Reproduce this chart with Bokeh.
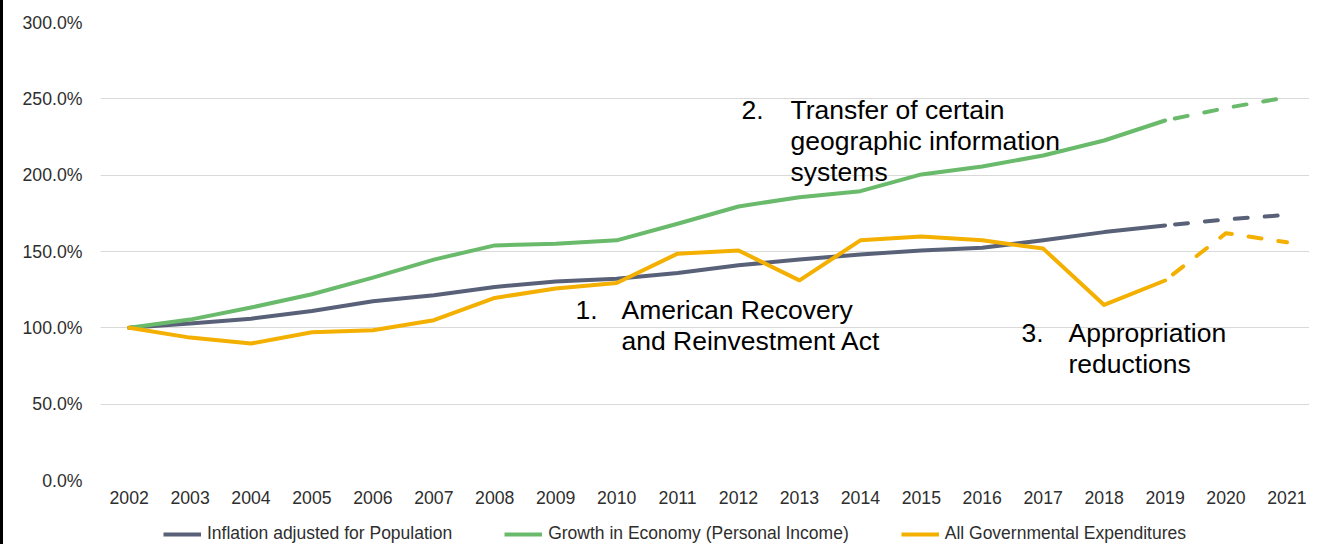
from bokeh.plotting import figure
from bokeh.layouts import column, row
from bokeh.models import Range1d, Label, Legend, LegendItem, FixedTicker, PrintfTickFormatter, Div
from bokeh.embed import file_html
from bokeh.resources import INLINE

# ---- data ----
years = list(range(2002, 2020))
inflation = [100, 102.8, 106, 111, 117.4, 121.3, 126.8, 130.3, 132.2, 135.9, 141, 144.7, 148.1, 150.7, 152.5, 157.3, 162.7, 167.1]
economy = [100, 105.4, 113.3, 122, 132.9, 144.7, 154, 155, 157.3, 168.2, 179.5, 185.6, 189.5, 200.5, 205.7, 212.9, 222.7, 235.8]
expend = [100, 93.6, 89.7, 97.1, 98.4, 105, 119.6, 125.7, 129.4, 148.6, 150.7, 131.1, 157.3, 159.9, 157.3, 151.9, 115, 131]

proj_years = [2019, 2020, 2021]
inflation_proj = [167.1, 171, 174]
economy_proj = [235.8, 244, 251]
expend_proj = [131, 162, 156]

x_ticks = list(range(2002, 2022))
y_ticks = [0, 50, 100, 150, 200, 250, 300]

series_names = ["Inflation adjusted for Population",
                "Growth in Economy (Personal Income)",
                "All Governmental Expenditures"]

notes = [
    ("1.", ["American Recovery", "and Reinvestment Act"]),
    ("2.", ["Transfer of certain", "geographic information", "systems"]),
    ("3.", ["Appropriation", "reductions"]),
]

# ---- style ----
FONT = "Liberation Sans"
C_GRAY = "#596178"
C_GREEN = "#6aba6c"
C_ORANGE = "#f4b000"
TXT = "#2e2e2e"
EDGE = 3
W = 1309 - EDGE

p = figure(width=W, height=511, output_backend="svg", toolbar_location=None,
           x_range=Range1d(2001.53, 2021.37), y_range=Range1d(0, 300),
           min_border_left=100 - EDGE, min_border_right=0, min_border_top=22, min_border_bottom=31)
p.outline_line_color = None
p.background_fill_color = "white"
p.border_fill_color = "white"

p.xgrid.grid_line_color = None
p.ygrid.grid_line_color = "#d9d9d9"
p.ygrid.grid_line_width = 1
p.ygrid.ticker = FixedTicker(ticks=y_ticks)

p.yaxis.ticker = FixedTicker(ticks=y_ticks)
p.yaxis.formatter = PrintfTickFormatter(format="%.1f%%")
p.xaxis.ticker = FixedTicker(ticks=x_ticks)
for ax in (p.xaxis, p.yaxis):
    ax.axis_line_color = None
    ax.major_tick_line_color = None
    ax.minor_tick_line_color = None
    ax.major_tick_out = 0
    ax.major_tick_in = 0
    ax.major_label_text_font = FONT
    ax.major_label_text_font_size = "17.7px"
    ax.major_label_text_color = TXT
p.yaxis.major_label_standoff = 18
p.xaxis.major_label_standoff = 10

lw = 4
dash = "13 17"
series = [(inflation, inflation_proj, C_GRAY), (economy, economy_proj, C_GREEN), (expend, expend_proj, C_ORANGE)]
for vals, proj, col in series:
    p.line(years, vals, line_color=col, line_width=lw, line_join="round", line_cap="round")
    p.line(proj_years, proj, line_color=col, line_width=lw, line_dash=dash, line_dash_offset=20,
           line_cap="round", line_join="round")

# annotations (screen units relative to frame bottom-left)
FRAME_L = 100
FRAME_B = 480
note_pos = [(575, 621, 309.5), (741, 790, 109.5), (1021, 1068, 332.5)]
LINE_GAP = 31
for (num, lines), (xn, xt, base) in zip(notes, note_pos):
    p.add_layout(Label(x=xn - FRAME_L, y=FRAME_B - base, x_units="screen", y_units="screen",
                       text=num, text_font=FONT, text_font_size="26.5px", text_color="black",
                       text_baseline="alphabetic"))
    for i, ln in enumerate(lines):
        p.add_layout(Label(x=xt - FRAME_L, y=FRAME_B - base - i * LINE_GAP, x_units="screen", y_units="screen",
                           text=ln, text_font=FONT, text_font_size="26.5px", text_color="black",
                           text_baseline="alphabetic"))

# ---- legend strip (same series, legend only) ----
lg = figure(width=W, height=33, output_backend="svg", toolbar_location=None,
            x_range=Range1d(0, 1), y_range=Range1d(0, 1), min_border=0,
            x_axis_location=None, y_axis_location=None)
lg.outline_line_color = None
lg.xgrid.visible = False
lg.ygrid.visible = False
lg.background_fill_color = "white"
lg.border_fill_color = "white"
rends = []
for vals, proj, col in series:
    rends.append(lg.line(years, vals, line_color=col, line_width=lw))
legend = Legend(items=[LegendItem(label=n, renderers=[r]) for n, r in zip(series_names, rends)],
                orientation="horizontal", location=(66 - EDGE, 0),
                glyph_width=38, glyph_height=20, label_standoff=6, spacing=52,
                padding=0, margin=0, border_line_color=None, background_fill_alpha=0,
                label_text_font=FONT, label_text_font_size="17.5px", label_text_color=TXT,
                label_height=20)
lg.add_layout(legend)

edge = Div(width=EDGE, height=544, margin=0, styles={"background-color": "#000000"})
layout = row(edge, column(p, lg, spacing=0), spacing=0)
open("out.html", "w").write(file_html(layout, INLINE))
